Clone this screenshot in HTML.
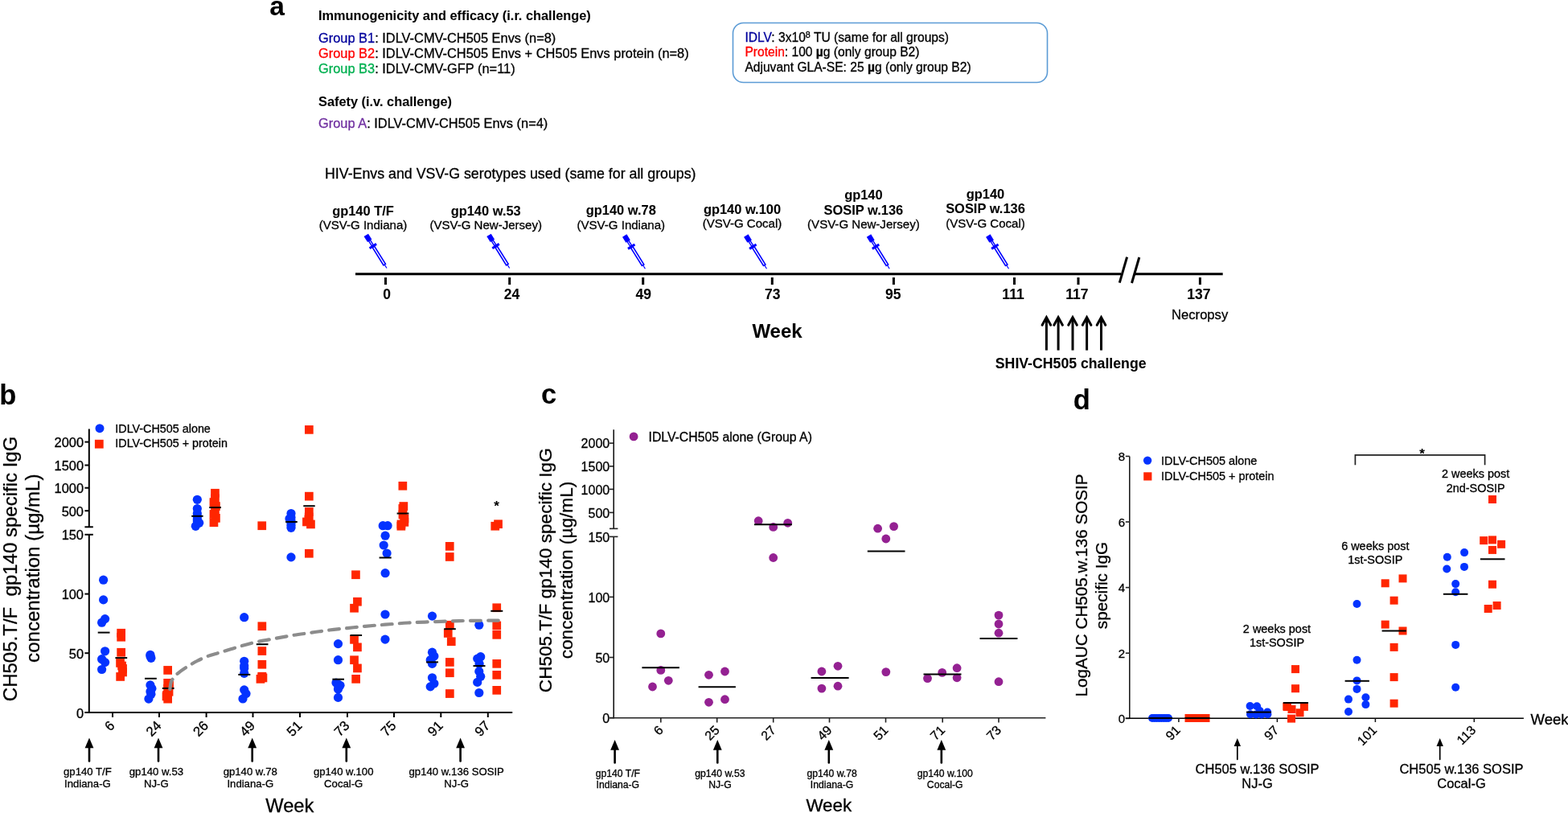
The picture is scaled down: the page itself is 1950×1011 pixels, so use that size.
<!DOCTYPE html>
<html><head><meta charset="utf-8"><title>Figure</title>
<style>html,body{margin:0;padding:0;background:#fff;} svg{display:block;} text{font-family:"Liberation Sans", Arial, Helvetica, sans-serif;stroke:#000;stroke-width:0.3px;} text[font-weight=bold]{stroke-width:0.05px;}</style>
</head><body>
<svg width="1950" height="1011" viewBox="0 0 1950 1011">
<rect width="1950" height="1011" fill="#fff"/>
<text x="335.2" y="18.7" font-size="33.5" font-weight="bold">a</text>
<text x="396.0" y="24.9" font-size="16.35" font-weight="bold">Immunogenicity and efficacy (i.r. challenge)</text>
<text x="396.0" y="53.1" font-size="16.4"><tspan fill="#00009c" stroke="#00009c">Group B1</tspan>: IDLV-CMV-CH505 Envs (n=8)</text>
<text x="396.0" y="72.2" font-size="16.4"><tspan fill="#ff0000" stroke="#ff0000">Group B2</tspan>: IDLV-CMV-CH505 Envs + CH505 Envs protein (n=8)</text>
<text x="396.0" y="91.3" font-size="16.4"><tspan fill="#00b050" stroke="#00b050">Group B3</tspan>: IDLV-CMV-GFP (n=11)</text>
<text x="396.0" y="131.5" font-size="16.35" font-weight="bold">Safety (i.v. challenge)</text>
<text x="396.0" y="159.2" font-size="16.4"><tspan fill="#7030a0" stroke="#7030a0">Group A</tspan>: IDLV-CMV-CH505 Envs (n=4)</text>
<rect x="911.5" y="28.5" width="391" height="74" rx="13" ry="13" fill="none" stroke="#5b9bd5" stroke-width="1.6"/>
<text x="926.4" y="51.5" font-size="15.6"><tspan fill="#00009c" stroke="#00009c">IDLV</tspan>: 3x10<tspan font-size="10.8" dy="-5">8</tspan><tspan dy="5"> TU (same for all groups)</tspan></text>
<text x="926.4" y="69.6" font-size="15.6"><tspan fill="#ff0000" stroke="#ff0000">Protein</tspan>: 100 <tspan font-weight="bold">µ</tspan>g (only group B2)</text>
<text x="926.4" y="88.8" font-size="15.6">Adjuvant GLA-SE: 25 <tspan font-weight="bold">µ</tspan>g (only group B2)</text>
<text x="404.0" y="222.3" font-size="17.8">HIV-Envs and VSV-G serotypes used (same for all groups)</text>
<line x1="442.0" y1="340.8" x2="1394.0" y2="340.8" stroke="#000" stroke-width="3"/>
<line x1="1411.0" y1="340.8" x2="1520.7" y2="340.8" stroke="#000" stroke-width="3"/>
<line x1="1401.6" y1="319.6" x2="1392.3" y2="351.7" stroke="#000" stroke-width="3"/>
<line x1="1416.8" y1="320.0" x2="1407.5" y2="352.0" stroke="#000" stroke-width="3"/>
<line x1="479.5" y1="345.0" x2="479.5" y2="354.0" stroke="#000" stroke-width="3"/>
<text x="481.1" y="372.2" font-size="17.5" font-weight="bold" text-anchor="middle">0</text>
<line x1="633.7" y1="345.0" x2="633.7" y2="354.0" stroke="#000" stroke-width="3"/>
<text x="636.4" y="372.2" font-size="17.5" font-weight="bold" text-anchor="middle">24</text>
<line x1="799.7" y1="345.0" x2="799.7" y2="354.0" stroke="#000" stroke-width="3"/>
<text x="800.3" y="372.2" font-size="17.5" font-weight="bold" text-anchor="middle">49</text>
<line x1="960.3" y1="345.0" x2="960.3" y2="354.0" stroke="#000" stroke-width="3"/>
<text x="960.7" y="372.2" font-size="17.5" font-weight="bold" text-anchor="middle">73</text>
<line x1="1111.4" y1="345.0" x2="1111.4" y2="354.0" stroke="#000" stroke-width="3"/>
<text x="1110.8" y="372.2" font-size="17.5" font-weight="bold" text-anchor="middle">95</text>
<line x1="1261.5" y1="345.0" x2="1261.5" y2="354.0" stroke="#000" stroke-width="3"/>
<text x="1260.0" y="372.2" font-size="17.5" font-weight="bold" text-anchor="middle">111</text>
<line x1="1341.0" y1="345.0" x2="1341.0" y2="354.0" stroke="#000" stroke-width="3"/>
<text x="1339.4" y="372.2" font-size="17.5" font-weight="bold" text-anchor="middle">117</text>
<line x1="1492.4" y1="345.0" x2="1492.4" y2="354.0" stroke="#000" stroke-width="3"/>
<text x="1490.8" y="372.2" font-size="17.5" font-weight="bold" text-anchor="middle">137</text>
<text x="935.4" y="419.8" font-size="24" font-weight="bold">Week</text>
<text x="1457.1" y="397.4" font-size="16.6">Necropsy</text>
<line x1="1301.4" y1="396.0" x2="1301.4" y2="435.6" stroke="#000" stroke-width="3"/>
<polyline points="1296.1,404.3 1301.4,394.6 1306.7,404.3" fill="none" stroke="#000" stroke-width="3" stroke-linecap="round" stroke-linejoin="miter"/>
<line x1="1316.1" y1="396.0" x2="1316.1" y2="435.6" stroke="#000" stroke-width="3"/>
<polyline points="1310.8,404.3 1316.1,394.6 1321.4,404.3" fill="none" stroke="#000" stroke-width="3" stroke-linecap="round" stroke-linejoin="miter"/>
<line x1="1334.0" y1="396.0" x2="1334.0" y2="435.6" stroke="#000" stroke-width="3"/>
<polyline points="1328.7,404.3 1334.0,394.6 1339.3,404.3" fill="none" stroke="#000" stroke-width="3" stroke-linecap="round" stroke-linejoin="miter"/>
<line x1="1351.6" y1="396.0" x2="1351.6" y2="435.6" stroke="#000" stroke-width="3"/>
<polyline points="1346.3,404.3 1351.6,394.6 1356.9,404.3" fill="none" stroke="#000" stroke-width="3" stroke-linecap="round" stroke-linejoin="miter"/>
<line x1="1369.5" y1="396.0" x2="1369.5" y2="435.6" stroke="#000" stroke-width="3"/>
<polyline points="1364.2,404.3 1369.5,394.6 1374.8,404.3" fill="none" stroke="#000" stroke-width="3" stroke-linecap="round" stroke-linejoin="miter"/>
<text x="1331.7" y="457.9" font-size="17.7" font-weight="bold" text-anchor="middle">SHIV-CH505 challenge</text>
<text x="451.5" y="267.7" font-size="16.45" font-weight="bold" text-anchor="middle">gp140 T/F</text>
<text x="451.5" y="285.4" font-size="15.05" text-anchor="middle">(VSV-G Indiana)</text>
<text x="604.2" y="267.7" font-size="16.45" font-weight="bold" text-anchor="middle">gp140 w.53</text>
<text x="604.2" y="285.4" font-size="15.05" text-anchor="middle">(VSV-G New-Jersey)</text>
<text x="772.3" y="266.6" font-size="16.45" font-weight="bold" text-anchor="middle">gp140 w.78</text>
<text x="772.3" y="284.6" font-size="15.05" text-anchor="middle">(VSV-G Indiana)</text>
<text x="923.0" y="265.7" font-size="16.45" font-weight="bold" text-anchor="middle">gp140 w.100</text>
<text x="923.0" y="283.0" font-size="15.05" text-anchor="middle">(VSV-G Cocal)</text>
<text x="1073.9" y="248.0" font-size="16.45" font-weight="bold" text-anchor="middle">gp140</text>
<text x="1073.9" y="266.5" font-size="16.45" font-weight="bold" text-anchor="middle">SOSIP w.136</text>
<text x="1073.9" y="284.0" font-size="15.05" text-anchor="middle">(VSV-G New-Jersey)</text>
<text x="1225.5" y="246.5" font-size="16.45" font-weight="bold" text-anchor="middle">gp140</text>
<text x="1225.5" y="265.0" font-size="16.45" font-weight="bold" text-anchor="middle">SOSIP w.136</text>
<text x="1225.5" y="282.5" font-size="15.05" text-anchor="middle">(VSV-G Cocal)</text>
<g transform="translate(455.30 292.37) rotate(-32)" fill="#0000ff" stroke="#0000ff"><rect x="-3.2" y="0" width="6.4" height="8.3" stroke="none"/><rect x="-1.1" y="8" width="2.2" height="7" fill="#fff" stroke-width="1.4"/><rect x="-5" y="14.6" width="10" height="3" stroke="none"/><rect x="-1.45" y="17.3" width="2.9" height="25.9" fill="#fff" stroke-width="1.6"/><line x1="0" y1="43" x2="0" y2="48.5" stroke-width="1.2"/></g>
<g transform="translate(608.00 292.37) rotate(-32)" fill="#0000ff" stroke="#0000ff"><rect x="-3.2" y="0" width="6.4" height="8.3" stroke="none"/><rect x="-1.1" y="8" width="2.2" height="7" fill="#fff" stroke-width="1.4"/><rect x="-5" y="14.6" width="10" height="3" stroke="none"/><rect x="-1.45" y="17.3" width="2.9" height="25.9" fill="#fff" stroke-width="1.6"/><line x1="0" y1="43" x2="0" y2="48.5" stroke-width="1.2"/></g>
<g transform="translate(776.70 293.07) rotate(-32)" fill="#0000ff" stroke="#0000ff"><rect x="-3.2" y="0" width="6.4" height="8.3" stroke="none"/><rect x="-1.1" y="8" width="2.2" height="7" fill="#fff" stroke-width="1.4"/><rect x="-5" y="14.6" width="10" height="3" stroke="none"/><rect x="-1.45" y="17.3" width="2.9" height="25.9" fill="#fff" stroke-width="1.6"/><line x1="0" y1="43" x2="0" y2="48.5" stroke-width="1.2"/></g>
<g transform="translate(927.80 293.07) rotate(-32)" fill="#0000ff" stroke="#0000ff"><rect x="-3.2" y="0" width="6.4" height="8.3" stroke="none"/><rect x="-1.1" y="8" width="2.2" height="7" fill="#fff" stroke-width="1.4"/><rect x="-5" y="14.6" width="10" height="3" stroke="none"/><rect x="-1.45" y="17.3" width="2.9" height="25.9" fill="#fff" stroke-width="1.6"/><line x1="0" y1="43" x2="0" y2="48.5" stroke-width="1.2"/></g>
<g transform="translate(1080.50 293.07) rotate(-32)" fill="#0000ff" stroke="#0000ff"><rect x="-3.2" y="0" width="6.4" height="8.3" stroke="none"/><rect x="-1.1" y="8" width="2.2" height="7" fill="#fff" stroke-width="1.4"/><rect x="-5" y="14.6" width="10" height="3" stroke="none"/><rect x="-1.45" y="17.3" width="2.9" height="25.9" fill="#fff" stroke-width="1.6"/><line x1="0" y1="43" x2="0" y2="48.5" stroke-width="1.2"/></g>
<g transform="translate(1228.80 293.07) rotate(-32)" fill="#0000ff" stroke="#0000ff"><rect x="-3.2" y="0" width="6.4" height="8.3" stroke="none"/><rect x="-1.1" y="8" width="2.2" height="7" fill="#fff" stroke-width="1.4"/><rect x="-5" y="14.6" width="10" height="3" stroke="none"/><rect x="-1.45" y="17.3" width="2.9" height="25.9" fill="#fff" stroke-width="1.6"/><line x1="0" y1="43" x2="0" y2="48.5" stroke-width="1.2"/></g>
<text x="-0.7" y="502.6" font-size="34.5" font-weight="bold">b</text>
<line x1="110.8" y1="533.4" x2="110.8" y2="655.3" stroke="#000" stroke-width="2"/>
<line x1="110.8" y1="664.8" x2="110.8" y2="887.0" stroke="#000" stroke-width="2"/>
<line x1="105.4" y1="655.3" x2="115.8" y2="655.3" stroke="#000" stroke-width="2"/>
<line x1="105.4" y1="549.6" x2="110.8" y2="549.6" stroke="#000" stroke-width="2"/>
<text x="104.0" y="556.1" font-size="16.4" text-anchor="end">2000</text>
<line x1="105.4" y1="578.5" x2="110.8" y2="578.5" stroke="#000" stroke-width="2"/>
<text x="104.0" y="585.0" font-size="16.4" text-anchor="end">1500</text>
<line x1="105.4" y1="606.7" x2="110.8" y2="606.7" stroke="#000" stroke-width="2"/>
<text x="104.0" y="613.2" font-size="16.4" text-anchor="end">1000</text>
<line x1="105.4" y1="635.2" x2="110.8" y2="635.2" stroke="#000" stroke-width="2"/>
<text x="104.0" y="641.7" font-size="16.4" text-anchor="end">500</text>
<line x1="105.4" y1="664.8" x2="110.8" y2="664.8" stroke="#000" stroke-width="2"/>
<text x="104.0" y="671.3" font-size="16.4" text-anchor="end">150</text>
<line x1="105.4" y1="738.6" x2="110.8" y2="738.6" stroke="#000" stroke-width="2"/>
<text x="104.0" y="745.1" font-size="16.4" text-anchor="end">100</text>
<line x1="105.4" y1="812.2" x2="110.8" y2="812.2" stroke="#000" stroke-width="2"/>
<text x="104.0" y="818.7" font-size="16.4" text-anchor="end">50</text>
<line x1="105.4" y1="886.0" x2="110.8" y2="886.0" stroke="#000" stroke-width="2"/>
<text x="104.0" y="892.5" font-size="16.4" text-anchor="end">0</text>
<line x1="115.8" y1="664.8" x2="110.8" y2="664.8" stroke="#000" stroke-width="2"/>
<line x1="105.6" y1="886.0" x2="637.2" y2="886.0" stroke="#000" stroke-width="2"/>
<line x1="140.0" y1="886.0" x2="140.0" y2="892.0" stroke="#000" stroke-width="2"/>
<text x="143.6" y="903.5" font-size="16.8" text-anchor="end" transform="rotate(-45 143.6 903.5)">6</text>
<line x1="198.0" y1="886.0" x2="198.0" y2="892.0" stroke="#000" stroke-width="2"/>
<text x="201.6" y="903.5" font-size="16.8" text-anchor="end" transform="rotate(-45 201.6 903.5)">24</text>
<line x1="256.6" y1="886.0" x2="256.6" y2="892.0" stroke="#000" stroke-width="2"/>
<text x="260.2" y="903.5" font-size="16.8" text-anchor="end" transform="rotate(-45 260.2 903.5)">26</text>
<line x1="314.5" y1="886.0" x2="314.5" y2="892.0" stroke="#000" stroke-width="2"/>
<text x="318.1" y="903.5" font-size="16.8" text-anchor="end" transform="rotate(-45 318.1 903.5)">49</text>
<line x1="373.0" y1="886.0" x2="373.0" y2="892.0" stroke="#000" stroke-width="2"/>
<text x="376.6" y="903.5" font-size="16.8" text-anchor="end" transform="rotate(-45 376.6 903.5)">51</text>
<line x1="432.0" y1="886.0" x2="432.0" y2="892.0" stroke="#000" stroke-width="2"/>
<text x="435.6" y="903.5" font-size="16.8" text-anchor="end" transform="rotate(-45 435.6 903.5)">73</text>
<line x1="490.0" y1="886.0" x2="490.0" y2="892.0" stroke="#000" stroke-width="2"/>
<text x="493.6" y="903.5" font-size="16.8" text-anchor="end" transform="rotate(-45 493.6 903.5)">75</text>
<line x1="548.3" y1="886.0" x2="548.3" y2="892.0" stroke="#000" stroke-width="2"/>
<text x="551.9" y="903.5" font-size="16.8" text-anchor="end" transform="rotate(-45 551.9 903.5)">91</text>
<line x1="606.8" y1="886.0" x2="606.8" y2="892.0" stroke="#000" stroke-width="2"/>
<text x="610.4" y="903.5" font-size="16.8" text-anchor="end" transform="rotate(-45 610.4 903.5)">97</text>
<circle cx="124.0" cy="532.7" r="5.5" fill="#0433ff"/>
<rect x="117.9" y="546.8" width="10.8" height="10.8" fill="#ff2600"/>
<text x="143.3" y="538.0" font-size="14.35">IDLV-CH505 alone</text>
<text x="143.3" y="556.4" font-size="14.35">IDLV-CH505 + protein</text>
<text x="21.3" y="707.4" font-size="24.0" text-anchor="middle" transform="rotate(-90 21.3 707.4)" style="white-space:pre">CH505.T/F  gp140 specific IgG</text>
<text x="49.0" y="706.7" font-size="24.05" text-anchor="middle" transform="rotate(-90 49.0 706.7)">concentration (µg/mL)</text>
<circle cx="128.6" cy="721.2" r="5.6" fill="#0433ff"/>
<circle cx="128.6" cy="745.9" r="5.6" fill="#0433ff"/>
<circle cx="130.6" cy="769.6" r="5.6" fill="#0433ff"/>
<circle cx="126.6" cy="774.2" r="5.6" fill="#0433ff"/>
<circle cx="130.6" cy="809.8" r="5.6" fill="#0433ff"/>
<circle cx="126.6" cy="819.7" r="5.6" fill="#0433ff"/>
<circle cx="130.6" cy="823.6" r="5.6" fill="#0433ff"/>
<circle cx="126.6" cy="832.5" r="5.6" fill="#0433ff"/>
<circle cx="186.9" cy="814.3" r="5.6" fill="#0433ff"/>
<circle cx="187.9" cy="818.3" r="5.6" fill="#0433ff"/>
<circle cx="186.9" cy="851.9" r="5.6" fill="#0433ff"/>
<circle cx="188.9" cy="856.3" r="5.6" fill="#0433ff"/>
<circle cx="187.9" cy="863.2" r="5.6" fill="#0433ff"/>
<circle cx="184.9" cy="869.1" r="5.6" fill="#0433ff"/>
<circle cx="186.9" cy="816.0" r="5.6" fill="#0433ff"/>
<circle cx="186.9" cy="860.0" r="5.6" fill="#0433ff"/>
<circle cx="245.3" cy="621.3" r="5.6" fill="#0433ff"/>
<circle cx="245.3" cy="632.5" r="5.6" fill="#0433ff"/>
<circle cx="245.3" cy="638.5" r="5.6" fill="#0433ff"/>
<circle cx="245.3" cy="642.4" r="5.6" fill="#0433ff"/>
<circle cx="245.3" cy="645.4" r="5.6" fill="#0433ff"/>
<circle cx="247.7" cy="650.3" r="5.6" fill="#0433ff"/>
<circle cx="243.3" cy="654.3" r="5.6" fill="#0433ff"/>
<circle cx="245.3" cy="648.0" r="5.6" fill="#0433ff"/>
<circle cx="303.7" cy="767.7" r="5.6" fill="#0433ff"/>
<circle cx="303.7" cy="822.3" r="5.6" fill="#0433ff"/>
<circle cx="303.7" cy="831.0" r="5.6" fill="#0433ff"/>
<circle cx="303.7" cy="837.3" r="5.6" fill="#0433ff"/>
<circle cx="303.7" cy="857.9" r="5.6" fill="#0433ff"/>
<circle cx="306.0" cy="862.6" r="5.6" fill="#0433ff"/>
<circle cx="302.0" cy="869.0" r="5.6" fill="#0433ff"/>
<circle cx="303.7" cy="828.0" r="5.6" fill="#0433ff"/>
<circle cx="362.0" cy="638.5" r="5.6" fill="#0433ff"/>
<circle cx="362.0" cy="643.4" r="5.6" fill="#0433ff"/>
<circle cx="362.0" cy="647.4" r="5.6" fill="#0433ff"/>
<circle cx="362.0" cy="650.3" r="5.6" fill="#0433ff"/>
<circle cx="362.0" cy="653.3" r="5.6" fill="#0433ff"/>
<circle cx="362.0" cy="656.3" r="5.6" fill="#0433ff"/>
<circle cx="362.0" cy="692.9" r="5.6" fill="#0433ff"/>
<circle cx="360.0" cy="645.0" r="5.6" fill="#0433ff"/>
<circle cx="420.5" cy="800.6" r="5.6" fill="#0433ff"/>
<circle cx="420.5" cy="820.7" r="5.6" fill="#0433ff"/>
<circle cx="420.5" cy="850.8" r="5.6" fill="#0433ff"/>
<circle cx="423.0" cy="852.3" r="5.6" fill="#0433ff"/>
<circle cx="420.5" cy="857.1" r="5.6" fill="#0433ff"/>
<circle cx="420.5" cy="867.4" r="5.6" fill="#0433ff"/>
<circle cx="418.0" cy="849.0" r="5.6" fill="#0433ff"/>
<circle cx="421.0" cy="855.0" r="5.6" fill="#0433ff"/>
<circle cx="476.2" cy="653.7" r="5.6" fill="#0433ff"/>
<circle cx="482.1" cy="653.7" r="5.6" fill="#0433ff"/>
<circle cx="479.1" cy="666.2" r="5.6" fill="#0433ff"/>
<circle cx="477.2" cy="678.0" r="5.6" fill="#0433ff"/>
<circle cx="481.1" cy="688.0" r="5.6" fill="#0433ff"/>
<circle cx="479.1" cy="712.7" r="5.6" fill="#0433ff"/>
<circle cx="479.0" cy="764.0" r="5.6" fill="#0433ff"/>
<circle cx="479.0" cy="795.1" r="5.6" fill="#0433ff"/>
<circle cx="537.5" cy="766.1" r="5.6" fill="#0433ff"/>
<circle cx="537.5" cy="811.2" r="5.6" fill="#0433ff"/>
<circle cx="539.9" cy="816.0" r="5.6" fill="#0433ff"/>
<circle cx="535.2" cy="820.7" r="5.6" fill="#0433ff"/>
<circle cx="537.5" cy="825.4" r="5.6" fill="#0433ff"/>
<circle cx="537.5" cy="842.8" r="5.6" fill="#0433ff"/>
<circle cx="539.9" cy="850.0" r="5.6" fill="#0433ff"/>
<circle cx="535.2" cy="853.9" r="5.6" fill="#0433ff"/>
<circle cx="595.8" cy="777.2" r="5.6" fill="#0433ff"/>
<circle cx="597.7" cy="816.7" r="5.6" fill="#0433ff"/>
<circle cx="593.7" cy="819.1" r="5.6" fill="#0433ff"/>
<circle cx="596.1" cy="825.4" r="5.6" fill="#0433ff"/>
<circle cx="595.8" cy="834.9" r="5.6" fill="#0433ff"/>
<circle cx="597.7" cy="841.3" r="5.6" fill="#0433ff"/>
<circle cx="593.7" cy="848.4" r="5.6" fill="#0433ff"/>
<circle cx="595.8" cy="861.5" r="5.6" fill="#0433ff"/>
<rect x="145.3" y="781.9" width="10.7" height="10.7" fill="#ff2600"/>
<rect x="145.3" y="786.9" width="10.7" height="10.7" fill="#ff2600"/>
<rect x="145.3" y="805.9" width="10.7" height="10.7" fill="#ff2600"/>
<rect x="144.2" y="819.1" width="10.7" height="10.7" fill="#ff2600"/>
<rect x="146.2" y="822.6" width="10.7" height="10.7" fill="#ff2600"/>
<rect x="147.2" y="826.1" width="10.7" height="10.7" fill="#ff2600"/>
<rect x="147.2" y="830.6" width="10.7" height="10.7" fill="#ff2600"/>
<rect x="144.3" y="836.1" width="10.7" height="10.7" fill="#ff2600"/>
<rect x="203.3" y="828.1" width="10.7" height="10.7" fill="#ff2600"/>
<rect x="203.3" y="844.0" width="10.7" height="10.7" fill="#ff2600"/>
<rect x="203.3" y="850.9" width="10.7" height="10.7" fill="#ff2600"/>
<rect x="204.7" y="854.9" width="10.7" height="10.7" fill="#ff2600"/>
<rect x="202.2" y="858.9" width="10.7" height="10.7" fill="#ff2600"/>
<rect x="203.3" y="863.8" width="10.7" height="10.7" fill="#ff2600"/>
<rect x="205.2" y="846.6" width="10.7" height="10.7" fill="#ff2600"/>
<rect x="201.7" y="860.6" width="10.7" height="10.7" fill="#ff2600"/>
<rect x="262.1" y="607.9" width="10.7" height="10.7" fill="#ff2600"/>
<rect x="262.1" y="614.4" width="10.7" height="10.7" fill="#ff2600"/>
<rect x="260.6" y="619.2" width="10.7" height="10.7" fill="#ff2600"/>
<rect x="263.1" y="624.2" width="10.7" height="10.7" fill="#ff2600"/>
<rect x="262.1" y="629.1" width="10.7" height="10.7" fill="#ff2600"/>
<rect x="260.6" y="634.1" width="10.7" height="10.7" fill="#ff2600"/>
<rect x="263.1" y="639.0" width="10.7" height="10.7" fill="#ff2600"/>
<rect x="260.6" y="644.4" width="10.7" height="10.7" fill="#ff2600"/>
<rect x="320.4" y="648.4" width="10.7" height="10.7" fill="#ff2600"/>
<rect x="320.5" y="773.4" width="10.7" height="10.7" fill="#ff2600"/>
<rect x="320.5" y="804.2" width="10.7" height="10.7" fill="#ff2600"/>
<rect x="320.5" y="820.9" width="10.7" height="10.7" fill="#ff2600"/>
<rect x="320.5" y="835.9" width="10.7" height="10.7" fill="#ff2600"/>
<rect x="318.6" y="839.0" width="10.7" height="10.7" fill="#ff2600"/>
<rect x="321.6" y="837.6" width="10.7" height="10.7" fill="#ff2600"/>
<rect x="320.5" y="836.6" width="10.7" height="10.7" fill="#ff2600"/>
<rect x="379.0" y="529.0" width="10.7" height="10.7" fill="#ff2600"/>
<rect x="379.0" y="611.8" width="10.7" height="10.7" fill="#ff2600"/>
<rect x="379.0" y="631.1" width="10.7" height="10.7" fill="#ff2600"/>
<rect x="378.8" y="637.6" width="10.7" height="10.7" fill="#ff2600"/>
<rect x="376.1" y="643.6" width="10.7" height="10.7" fill="#ff2600"/>
<rect x="381.1" y="646.6" width="10.7" height="10.7" fill="#ff2600"/>
<rect x="378.6" y="640.6" width="10.7" height="10.7" fill="#ff2600"/>
<rect x="379.0" y="682.9" width="10.7" height="10.7" fill="#ff2600"/>
<rect x="437.1" y="709.4" width="10.7" height="10.7" fill="#ff2600"/>
<rect x="439.1" y="742.9" width="10.7" height="10.7" fill="#ff2600"/>
<rect x="435.2" y="750.9" width="10.7" height="10.7" fill="#ff2600"/>
<rect x="435.2" y="790.0" width="10.7" height="10.7" fill="#ff2600"/>
<rect x="439.1" y="799.5" width="10.7" height="10.7" fill="#ff2600"/>
<rect x="435.2" y="815.4" width="10.7" height="10.7" fill="#ff2600"/>
<rect x="439.1" y="825.6" width="10.7" height="10.7" fill="#ff2600"/>
<rect x="437.3" y="839.0" width="10.7" height="10.7" fill="#ff2600"/>
<rect x="495.5" y="598.9" width="10.7" height="10.7" fill="#ff2600"/>
<rect x="496.5" y="624.2" width="10.7" height="10.7" fill="#ff2600"/>
<rect x="495.5" y="627.1" width="10.7" height="10.7" fill="#ff2600"/>
<rect x="497.5" y="644.0" width="10.7" height="10.7" fill="#ff2600"/>
<rect x="493.5" y="648.9" width="10.7" height="10.7" fill="#ff2600"/>
<rect x="495.6" y="634.6" width="10.7" height="10.7" fill="#ff2600"/>
<rect x="497.6" y="639.6" width="10.7" height="10.7" fill="#ff2600"/>
<rect x="493.6" y="646.6" width="10.7" height="10.7" fill="#ff2600"/>
<rect x="553.9" y="674.0" width="10.7" height="10.7" fill="#ff2600"/>
<rect x="553.9" y="687.1" width="10.7" height="10.7" fill="#ff2600"/>
<rect x="554.0" y="771.9" width="10.7" height="10.7" fill="#ff2600"/>
<rect x="551.9" y="782.1" width="10.7" height="10.7" fill="#ff2600"/>
<rect x="555.9" y="792.4" width="10.7" height="10.7" fill="#ff2600"/>
<rect x="554.0" y="818.1" width="10.7" height="10.7" fill="#ff2600"/>
<rect x="554.0" y="831.4" width="10.7" height="10.7" fill="#ff2600"/>
<rect x="554.0" y="857.2" width="10.7" height="10.7" fill="#ff2600"/>
<rect x="610.4" y="648.9" width="10.7" height="10.7" fill="#ff2600"/>
<rect x="614.2" y="646.4" width="10.7" height="10.7" fill="#ff2600"/>
<rect x="612.4" y="750.4" width="10.7" height="10.7" fill="#ff2600"/>
<rect x="612.4" y="772.6" width="10.7" height="10.7" fill="#ff2600"/>
<rect x="612.4" y="784.0" width="10.7" height="10.7" fill="#ff2600"/>
<rect x="612.4" y="820.0" width="10.7" height="10.7" fill="#ff2600"/>
<rect x="612.4" y="834.0" width="10.7" height="10.7" fill="#ff2600"/>
<rect x="612.4" y="853.0" width="10.7" height="10.7" fill="#ff2600"/>
<line x1="121.7" y1="786.6" x2="136.5" y2="786.6" stroke="#000" stroke-width="2"/>
<line x1="180.0" y1="843.8" x2="194.8" y2="843.8" stroke="#000" stroke-width="2"/>
<line x1="238.2" y1="641.8" x2="252.6" y2="641.8" stroke="#000" stroke-width="2"/>
<line x1="296.3" y1="838.9" x2="311.3" y2="838.9" stroke="#000" stroke-width="2"/>
<line x1="355.1" y1="649.0" x2="369.8" y2="649.0" stroke="#000" stroke-width="2"/>
<line x1="413.4" y1="844.7" x2="428.0" y2="844.7" stroke="#000" stroke-width="2"/>
<line x1="471.6" y1="693.5" x2="486.7" y2="693.5" stroke="#000" stroke-width="2"/>
<line x1="530.1" y1="823.4" x2="545.0" y2="823.4" stroke="#000" stroke-width="2"/>
<line x1="588.5" y1="828.1" x2="603.5" y2="828.1" stroke="#000" stroke-width="2"/>
<line x1="143.4" y1="818.1" x2="158.2" y2="818.1" stroke="#000" stroke-width="2"/>
<line x1="201.8" y1="855.9" x2="216.6" y2="855.9" stroke="#000" stroke-width="2"/>
<line x1="260.2" y1="631.1" x2="275.0" y2="631.1" stroke="#000" stroke-width="2"/>
<line x1="318.8" y1="801.2" x2="333.5" y2="801.2" stroke="#000" stroke-width="2"/>
<line x1="377.3" y1="629.2" x2="391.7" y2="629.2" stroke="#000" stroke-width="2"/>
<line x1="435.5" y1="790.0" x2="450.1" y2="790.0" stroke="#000" stroke-width="2"/>
<line x1="493.6" y1="638.5" x2="508.4" y2="638.5" stroke="#000" stroke-width="2"/>
<line x1="552.2" y1="782.2" x2="566.8" y2="782.2" stroke="#000" stroke-width="2"/>
<line x1="610.3" y1="759.8" x2="625.3" y2="759.8" stroke="#000" stroke-width="2"/>
<text x="617.6" y="634.5" font-size="17" font-weight="bold" text-anchor="middle">*</text>
<path d="M211.3,857.0 C211.6,855.5 212.1,850.4 212.8,848.1 C213.6,845.8 214.4,845.0 215.8,843.2 C217.2,841.4 218.4,839.6 221.2,837.3 C224.0,835.0 228.6,831.8 232.6,829.3 C236.6,826.8 240.7,824.2 245.0,822.0 C249.3,819.8 253.6,817.8 258.3,816.0 C263.0,814.2 267.2,813.3 273.1,811.5 C279.0,809.7 286.9,807.1 293.9,805.1 C300.9,803.1 306.8,801.1 315.0,799.2 C323.2,797.3 334.9,795.4 343.3,793.8 C351.7,792.2 358.0,791.0 365.4,789.8 C372.8,788.6 380.2,787.8 387.6,786.7 C395.0,785.7 402.3,784.4 409.7,783.5 C417.1,782.6 424.5,781.9 431.9,781.1 C439.3,780.3 446.1,779.5 454.0,778.8 C461.9,778.1 470.1,777.4 479.0,776.7 C487.9,776.0 497.5,775.1 507.5,774.5 C517.5,773.9 528.5,773.6 539.0,773.2 C549.5,772.8 557.3,772.4 570.8,772.1 C584.3,771.8 611.6,771.7 619.8,771.6" fill="none" stroke="#8c8c8c" stroke-width="4.2" stroke-dasharray="12.8 9.24" stroke-linecap="round"/>
<line x1="111.0" y1="929.3" x2="111.0" y2="946.5" stroke="#000" stroke-width="2.6" stroke-linecap="round"/>
<polygon points="111.0,917.5 105.6,930.3 116.4,930.3" fill="#000"/>
<line x1="197.0" y1="929.3" x2="197.0" y2="946.5" stroke="#000" stroke-width="2.6" stroke-linecap="round"/>
<polygon points="197.0,917.5 191.6,930.3 202.4,930.3" fill="#000"/>
<line x1="313.7" y1="929.3" x2="313.7" y2="946.5" stroke="#000" stroke-width="2.6" stroke-linecap="round"/>
<polygon points="313.7,917.5 308.3,930.3 319.1,930.3" fill="#000"/>
<line x1="430.8" y1="929.3" x2="430.8" y2="946.5" stroke="#000" stroke-width="2.6" stroke-linecap="round"/>
<polygon points="430.8,917.5 425.4,930.3 436.2,930.3" fill="#000"/>
<line x1="572.6" y1="929.3" x2="572.6" y2="946.5" stroke="#000" stroke-width="2.6" stroke-linecap="round"/>
<polygon points="572.6,917.5 567.2,930.3 578.0,930.3" fill="#000"/>
<text x="108.9" y="963.9" font-size="13.15" text-anchor="middle">gp140 T/F</text>
<text x="108.9" y="979.1" font-size="13.15" text-anchor="middle">Indiana-G</text>
<text x="194.4" y="963.9" font-size="13.15" text-anchor="middle">gp140 w.53</text>
<text x="194.4" y="979.1" font-size="13.15" text-anchor="middle">NJ-G</text>
<text x="311.3" y="963.9" font-size="13.15" text-anchor="middle">gp140 w.78</text>
<text x="311.3" y="979.1" font-size="13.15" text-anchor="middle">Indiana-G</text>
<text x="427.2" y="963.9" font-size="13.15" text-anchor="middle">gp140 w.100</text>
<text x="427.2" y="979.1" font-size="13.15" text-anchor="middle">Cocal-G</text>
<text x="567.7" y="963.9" font-size="13.15" text-anchor="middle">gp140 w.136 SOSIP</text>
<text x="567.7" y="979.1" font-size="13.15" text-anchor="middle">NJ-G</text>
<text x="360.3" y="1010.3" font-size="23.7" text-anchor="middle">Week</text>
<text x="673.1" y="502.4" font-size="34.5" font-weight="bold">c</text>
<line x1="763.2" y1="534.3" x2="763.2" y2="657.4" stroke="#000" stroke-width="1.45"/>
<line x1="763.2" y1="667.4" x2="763.2" y2="893.5" stroke="#000" stroke-width="1.45"/>
<line x1="758.0" y1="657.4" x2="768.4" y2="657.4" stroke="#222" stroke-width="1.6"/>
<line x1="758.0" y1="551.1" x2="763.2" y2="551.1" stroke="#222" stroke-width="1.6"/>
<text x="758.2" y="557.4" font-size="16" text-anchor="end">2000</text>
<line x1="758.0" y1="579.8" x2="763.2" y2="579.8" stroke="#222" stroke-width="1.6"/>
<text x="758.2" y="586.1" font-size="16" text-anchor="end">1500</text>
<line x1="758.0" y1="608.4" x2="763.2" y2="608.4" stroke="#222" stroke-width="1.6"/>
<text x="758.2" y="614.7" font-size="16" text-anchor="end">1000</text>
<line x1="758.0" y1="637.4" x2="763.2" y2="637.4" stroke="#222" stroke-width="1.6"/>
<text x="758.2" y="643.7" font-size="16" text-anchor="end">500</text>
<line x1="758.0" y1="667.4" x2="763.2" y2="667.4" stroke="#222" stroke-width="1.6"/>
<text x="758.2" y="673.7" font-size="16" text-anchor="end">150</text>
<line x1="758.0" y1="742.4" x2="763.2" y2="742.4" stroke="#222" stroke-width="1.6"/>
<text x="758.2" y="748.7" font-size="16" text-anchor="end">100</text>
<line x1="758.0" y1="817.5" x2="763.2" y2="817.5" stroke="#222" stroke-width="1.6"/>
<text x="758.2" y="823.8" font-size="16" text-anchor="end">50</text>
<line x1="758.0" y1="892.6" x2="763.2" y2="892.6" stroke="#222" stroke-width="1.6"/>
<text x="758.2" y="898.9" font-size="16" text-anchor="end">0</text>
<line x1="768.4" y1="667.4" x2="763.2" y2="667.4" stroke="#222" stroke-width="1.6"/>
<line x1="757.5" y1="892.7" x2="1300.4" y2="892.7" stroke="#222" stroke-width="1.6"/>
<line x1="821.8" y1="892.7" x2="821.8" y2="898.5" stroke="#222" stroke-width="1.6"/>
<text x="825.8" y="909.0" font-size="16" text-anchor="end" transform="rotate(-45 825.8 909.0)">6</text>
<line x1="891.7" y1="892.7" x2="891.7" y2="898.5" stroke="#222" stroke-width="1.6"/>
<text x="895.7" y="909.0" font-size="16" text-anchor="end" transform="rotate(-45 895.7 909.0)">25</text>
<line x1="961.7" y1="892.7" x2="961.7" y2="898.5" stroke="#222" stroke-width="1.6"/>
<text x="965.7" y="909.0" font-size="16" text-anchor="end" transform="rotate(-45 965.7 909.0)">27</text>
<line x1="1031.5" y1="892.7" x2="1031.5" y2="898.5" stroke="#222" stroke-width="1.6"/>
<text x="1035.5" y="909.0" font-size="16" text-anchor="end" transform="rotate(-45 1035.5 909.0)">49</text>
<line x1="1101.5" y1="892.7" x2="1101.5" y2="898.5" stroke="#222" stroke-width="1.6"/>
<text x="1105.5" y="909.0" font-size="16" text-anchor="end" transform="rotate(-45 1105.5 909.0)">51</text>
<line x1="1172.2" y1="892.7" x2="1172.2" y2="898.5" stroke="#222" stroke-width="1.6"/>
<text x="1176.2" y="909.0" font-size="16" text-anchor="end" transform="rotate(-45 1176.2 909.0)">71</text>
<line x1="1242.0" y1="892.7" x2="1242.0" y2="898.5" stroke="#222" stroke-width="1.6"/>
<text x="1246.0" y="909.0" font-size="16" text-anchor="end" transform="rotate(-45 1246.0 909.0)">73</text>
<circle cx="788.1" cy="542.9" r="5.4" fill="#942192"/>
<text x="806.5" y="548.6" font-size="15.8">IDLV-CH505 alone (Group A)</text>
<text x="685.9" y="709.2" font-size="22.6" text-anchor="middle" transform="rotate(-90 685.9 709.2)">CH505.T/F gp140 specific IgG</text>
<text x="711.9" y="709.0" font-size="22.65" text-anchor="middle" transform="rotate(-90 711.9 709.0)">concentration (µg/mL)</text>
<circle cx="821.8" cy="787.9" r="5.4" fill="#942192"/>
<circle cx="821.8" cy="833.4" r="5.4" fill="#942192"/>
<circle cx="831.3" cy="846.3" r="5.4" fill="#942192"/>
<circle cx="811.5" cy="854.0" r="5.4" fill="#942192"/>
<circle cx="881.5" cy="839.3" r="5.4" fill="#942192"/>
<circle cx="901.5" cy="835.0" r="5.4" fill="#942192"/>
<circle cx="881.5" cy="873.3" r="5.4" fill="#942192"/>
<circle cx="901.5" cy="869.7" r="5.4" fill="#942192"/>
<circle cx="943.2" cy="647.7" r="5.4" fill="#942192"/>
<circle cx="961.7" cy="655.4" r="5.4" fill="#942192"/>
<circle cx="979.7" cy="650.3" r="5.4" fill="#942192"/>
<circle cx="961.7" cy="693.5" r="5.4" fill="#942192"/>
<circle cx="1021.9" cy="835.0" r="5.4" fill="#942192"/>
<circle cx="1042.0" cy="828.3" r="5.4" fill="#942192"/>
<circle cx="1021.9" cy="856.1" r="5.4" fill="#942192"/>
<circle cx="1042.0" cy="853.2" r="5.4" fill="#942192"/>
<circle cx="1091.6" cy="657.2" r="5.4" fill="#942192"/>
<circle cx="1111.6" cy="654.6" r="5.4" fill="#942192"/>
<circle cx="1101.8" cy="670.0" r="5.4" fill="#942192"/>
<circle cx="1101.8" cy="835.6" r="5.4" fill="#942192"/>
<circle cx="1153.5" cy="843.6" r="5.4" fill="#942192"/>
<circle cx="1171.7" cy="836.4" r="5.4" fill="#942192"/>
<circle cx="1190.1" cy="830.7" r="5.4" fill="#942192"/>
<circle cx="1190.1" cy="842.8" r="5.4" fill="#942192"/>
<circle cx="1242.0" cy="765.1" r="5.4" fill="#942192"/>
<circle cx="1242.0" cy="776.0" r="5.4" fill="#942192"/>
<circle cx="1242.0" cy="787.2" r="5.4" fill="#942192"/>
<circle cx="1242.0" cy="847.7" r="5.4" fill="#942192"/>
<line x1="798.4" y1="830.3" x2="844.9" y2="830.3" stroke="#000" stroke-width="2"/>
<line x1="868.6" y1="854.2" x2="914.9" y2="854.2" stroke="#000" stroke-width="2"/>
<line x1="938.0" y1="652.3" x2="984.9" y2="652.3" stroke="#000" stroke-width="2"/>
<line x1="1008.6" y1="843.0" x2="1055.6" y2="843.0" stroke="#000" stroke-width="2"/>
<line x1="1078.8" y1="685.5" x2="1125.5" y2="685.5" stroke="#000" stroke-width="2"/>
<line x1="1148.5" y1="838.5" x2="1195.5" y2="838.5" stroke="#000" stroke-width="2"/>
<line x1="1218.5" y1="794.0" x2="1265.4" y2="794.0" stroke="#000" stroke-width="2"/>
<line x1="764.6" y1="931.8" x2="764.6" y2="948.5" stroke="#000" stroke-width="2.6" stroke-linecap="round"/>
<polygon points="764.6,920.0 759.2,932.8 770.0,932.8" fill="#000"/>
<line x1="892.3" y1="931.8" x2="892.3" y2="948.5" stroke="#000" stroke-width="2.6" stroke-linecap="round"/>
<polygon points="892.3,920.0 886.9,932.8 897.7,932.8" fill="#000"/>
<line x1="1030.8" y1="931.8" x2="1030.8" y2="948.5" stroke="#000" stroke-width="2.6" stroke-linecap="round"/>
<polygon points="1030.8,920.0 1025.4,932.8 1036.2,932.8" fill="#000"/>
<line x1="1170.8" y1="931.8" x2="1170.8" y2="948.5" stroke="#000" stroke-width="2.6" stroke-linecap="round"/>
<polygon points="1170.8,920.0 1165.4,932.8 1176.2,932.8" fill="#000"/>
<text x="768.3" y="965.5" font-size="12.2" text-anchor="middle">gp140 T/F</text>
<text x="768.3" y="980.3" font-size="12.2" text-anchor="middle">Indiana-G</text>
<text x="895.4" y="965.5" font-size="12.2" text-anchor="middle">gp140 w.53</text>
<text x="895.4" y="980.3" font-size="12.2" text-anchor="middle">NJ-G</text>
<text x="1034.6" y="965.5" font-size="12.2" text-anchor="middle">gp140 w.78</text>
<text x="1034.6" y="980.3" font-size="12.2" text-anchor="middle">Indiana-G</text>
<text x="1175.2" y="965.5" font-size="12.2" text-anchor="middle">gp140 w.100</text>
<text x="1175.2" y="980.3" font-size="12.2" text-anchor="middle">Cocal-G</text>
<text x="1030.8" y="1008.6" font-size="22.4" text-anchor="middle">Week</text>
<text x="1334.8" y="509.0" font-size="34.5" font-weight="bold">d</text>
<line x1="1404.8" y1="567.4" x2="1404.8" y2="893.8" stroke="#000" stroke-width="1.4"/>
<line x1="1399.8" y1="567.4" x2="1404.8" y2="567.4" stroke="#222" stroke-width="1.6"/>
<text x="1399.2" y="573.0" font-size="15" text-anchor="end">8</text>
<line x1="1399.8" y1="649.0" x2="1404.8" y2="649.0" stroke="#222" stroke-width="1.6"/>
<text x="1399.2" y="654.6" font-size="15" text-anchor="end">6</text>
<line x1="1399.8" y1="730.6" x2="1404.8" y2="730.6" stroke="#222" stroke-width="1.6"/>
<text x="1399.2" y="736.2" font-size="15" text-anchor="end">4</text>
<line x1="1399.8" y1="812.2" x2="1404.8" y2="812.2" stroke="#222" stroke-width="1.6"/>
<text x="1399.2" y="817.8" font-size="15" text-anchor="end">2</text>
<line x1="1399.8" y1="893.4" x2="1404.8" y2="893.4" stroke="#222" stroke-width="1.6"/>
<text x="1399.2" y="899.0" font-size="15" text-anchor="end">0</text>
<line x1="1399.8" y1="893.3" x2="1894.9" y2="893.3" stroke="#000" stroke-width="1.4"/>
<line x1="1465.9" y1="893.0" x2="1465.9" y2="898.0" stroke="#111" stroke-width="1.5"/>
<text x="1468.9" y="909.0" font-size="16" text-anchor="end" transform="rotate(-45 1468.9 909.0)">91</text>
<line x1="1588.4" y1="893.0" x2="1588.4" y2="898.0" stroke="#111" stroke-width="1.5"/>
<text x="1591.4" y="909.0" font-size="16" text-anchor="end" transform="rotate(-45 1591.4 909.0)">97</text>
<line x1="1710.4" y1="893.0" x2="1710.4" y2="898.0" stroke="#111" stroke-width="1.5"/>
<text x="1713.4" y="909.0" font-size="16" text-anchor="end" transform="rotate(-45 1713.4 909.0)">101</text>
<line x1="1833.3" y1="893.0" x2="1833.3" y2="898.0" stroke="#111" stroke-width="1.5"/>
<text x="1836.3" y="909.0" font-size="16" text-anchor="end" transform="rotate(-45 1836.3 909.0)">113</text>
<text x="1903.5" y="901.2" font-size="18.5">Week</text>
<circle cx="1427.1" cy="572.6" r="5.2" fill="#0433ff"/>
<rect x="1422.2" y="587.3" width="10.2" height="10.2" fill="#ff2600"/>
<text x="1444.0" y="578.0" font-size="14.45">IDLV-CH505 alone</text>
<text x="1444.0" y="597.0" font-size="14.45">IDLV-CH505 + protein</text>
<text x="1351.6" y="727.9" font-size="20.7" text-anchor="middle" transform="rotate(-90 1351.6 727.9)">LogAUC CH505.w.136 SOSIP</text>
<text x="1376.6" y="728.0" font-size="20.75" text-anchor="middle" transform="rotate(-90 1376.6 728.0)">specific IgG</text>
<circle cx="1433.0" cy="893.0" r="5.0" fill="#0433ff"/>
<circle cx="1435.9" cy="893.0" r="5.0" fill="#0433ff"/>
<circle cx="1438.7" cy="893.0" r="5.0" fill="#0433ff"/>
<circle cx="1441.6" cy="893.0" r="5.0" fill="#0433ff"/>
<circle cx="1444.4" cy="893.0" r="5.0" fill="#0433ff"/>
<circle cx="1447.3" cy="893.0" r="5.0" fill="#0433ff"/>
<circle cx="1450.1" cy="893.0" r="5.0" fill="#0433ff"/>
<circle cx="1453.0" cy="893.0" r="5.0" fill="#0433ff"/>
<circle cx="1554.6" cy="878.0" r="5.0" fill="#0433ff"/>
<circle cx="1563.1" cy="878.2" r="5.0" fill="#0433ff"/>
<circle cx="1566.7" cy="884.1" r="5.0" fill="#0433ff"/>
<circle cx="1576.2" cy="885.6" r="5.0" fill="#0433ff"/>
<circle cx="1555.0" cy="888.2" r="5.0" fill="#0433ff"/>
<circle cx="1562.0" cy="888.4" r="5.0" fill="#0433ff"/>
<circle cx="1569.0" cy="888.4" r="5.0" fill="#0433ff"/>
<circle cx="1576.4" cy="888.2" r="5.0" fill="#0433ff"/>
<circle cx="1687.5" cy="751.0" r="5.0" fill="#0433ff"/>
<circle cx="1687.5" cy="820.7" r="5.0" fill="#0433ff"/>
<circle cx="1687.5" cy="846.4" r="5.0" fill="#0433ff"/>
<circle cx="1687.5" cy="856.9" r="5.0" fill="#0433ff"/>
<circle cx="1677.0" cy="869.6" r="5.0" fill="#0433ff"/>
<circle cx="1698.4" cy="867.2" r="5.0" fill="#0433ff"/>
<circle cx="1698.4" cy="876.1" r="5.0" fill="#0433ff"/>
<circle cx="1677.0" cy="885.0" r="5.0" fill="#0433ff"/>
<circle cx="1799.8" cy="692.8" r="5.0" fill="#0433ff"/>
<circle cx="1821.1" cy="687.1" r="5.0" fill="#0433ff"/>
<circle cx="1799.3" cy="707.5" r="5.0" fill="#0433ff"/>
<circle cx="1821.0" cy="704.9" r="5.0" fill="#0433ff"/>
<circle cx="1810.2" cy="726.1" r="5.0" fill="#0433ff"/>
<circle cx="1810.2" cy="736.2" r="5.0" fill="#0433ff"/>
<circle cx="1810.2" cy="801.9" r="5.0" fill="#0433ff"/>
<circle cx="1810.2" cy="854.7" r="5.0" fill="#0433ff"/>
<rect x="1473.5" y="888.0" width="10" height="10" fill="#ff2600"/>
<rect x="1476.5" y="888.0" width="10" height="10" fill="#ff2600"/>
<rect x="1479.5" y="888.0" width="10" height="10" fill="#ff2600"/>
<rect x="1482.5" y="888.0" width="10" height="10" fill="#ff2600"/>
<rect x="1485.5" y="888.0" width="10" height="10" fill="#ff2600"/>
<rect x="1488.5" y="888.0" width="10" height="10" fill="#ff2600"/>
<rect x="1491.5" y="888.0" width="10" height="10" fill="#ff2600"/>
<rect x="1494.5" y="888.0" width="10" height="10" fill="#ff2600"/>
<rect x="1606.0" y="827.1" width="10" height="10" fill="#ff2600"/>
<rect x="1606.0" y="851.2" width="10" height="10" fill="#ff2600"/>
<rect x="1595.3" y="873.6" width="10" height="10" fill="#ff2600"/>
<rect x="1616.9" y="873.9" width="10" height="10" fill="#ff2600"/>
<rect x="1601.5" y="877.0" width="10" height="10" fill="#ff2600"/>
<rect x="1611.5" y="881.3" width="10" height="10" fill="#ff2600"/>
<rect x="1601.0" y="888.6" width="10" height="10" fill="#ff2600"/>
<rect x="1596.0" y="874.0" width="10" height="10" fill="#ff2600"/>
<rect x="1717.7" y="720.3" width="10" height="10" fill="#ff2600"/>
<rect x="1739.5" y="714.4" width="10" height="10" fill="#ff2600"/>
<rect x="1728.6" y="741.7" width="10" height="10" fill="#ff2600"/>
<rect x="1717.7" y="771.6" width="10" height="10" fill="#ff2600"/>
<rect x="1739.5" y="779.5" width="10" height="10" fill="#ff2600"/>
<rect x="1728.6" y="799.9" width="10" height="10" fill="#ff2600"/>
<rect x="1728.6" y="837.1" width="10" height="10" fill="#ff2600"/>
<rect x="1728.6" y="869.7" width="10" height="10" fill="#ff2600"/>
<rect x="1851.0" y="616.0" width="10" height="10" fill="#ff2600"/>
<rect x="1840.2" y="667.1" width="10" height="10" fill="#ff2600"/>
<rect x="1851.0" y="666.4" width="10" height="10" fill="#ff2600"/>
<rect x="1862.1" y="671.8" width="10" height="10" fill="#ff2600"/>
<rect x="1851.0" y="678.9" width="10" height="10" fill="#ff2600"/>
<rect x="1851.0" y="721.7" width="10" height="10" fill="#ff2600"/>
<rect x="1845.7" y="752.0" width="10" height="10" fill="#ff2600"/>
<rect x="1856.6" y="748.0" width="10" height="10" fill="#ff2600"/>
<line x1="1428.5" y1="893.0" x2="1458.0" y2="893.0" stroke="#000" stroke-width="2"/>
<line x1="1473.4" y1="893.0" x2="1504.7" y2="893.0" stroke="#000" stroke-width="2"/>
<line x1="1550.0" y1="885.6" x2="1580.8" y2="885.6" stroke="#000" stroke-width="2"/>
<line x1="1595.9" y1="874.0" x2="1627.0" y2="874.0" stroke="#000" stroke-width="2"/>
<line x1="1672.6" y1="846.8" x2="1702.9" y2="846.8" stroke="#000" stroke-width="2"/>
<line x1="1718.6" y1="784.5" x2="1748.8" y2="784.5" stroke="#000" stroke-width="2"/>
<line x1="1794.9" y1="738.8" x2="1825.4" y2="738.8" stroke="#000" stroke-width="2"/>
<line x1="1840.9" y1="695.3" x2="1871.5" y2="695.3" stroke="#000" stroke-width="2"/>
<polyline points="1685.4,578.3 1685.4,565.8 1846.6,565.8 1846.6,578.3" fill="none" stroke="#222" stroke-width="1.7"/>
<text x="1768.6" y="569.5" font-size="17" font-weight="bold" text-anchor="middle">*</text>
<text x="1588.0" y="786.7" font-size="14.45" text-anchor="middle">2 weeks post</text>
<text x="1588.0" y="803.6" font-size="14.45" text-anchor="middle">1st-SOSIP</text>
<text x="1710.3" y="683.9" font-size="14.45" text-anchor="middle">6 weeks post</text>
<text x="1710.3" y="701.2" font-size="14.45" text-anchor="middle">1st-SOSIP</text>
<text x="1835.2" y="594.3" font-size="14.45" text-anchor="middle">2 weeks post</text>
<text x="1835.2" y="611.6" font-size="14.45" text-anchor="middle">2nd-SOSIP</text>
<line x1="1538.8" y1="927.1" x2="1538.8" y2="944.3" stroke="#000" stroke-width="1.7" stroke-linecap="round"/>
<polygon points="1538.8,918.1 1534.6,928.1 1543.0,928.1" fill="#000"/>
<line x1="1790.7" y1="927.1" x2="1790.7" y2="944.3" stroke="#000" stroke-width="1.7" stroke-linecap="round"/>
<polygon points="1790.7,918.1 1786.5,928.1 1794.9,928.1" fill="#000"/>
<text x="1563.6" y="961.8" font-size="16.5" text-anchor="middle">CH505 w.136 SOSIP</text>
<text x="1563.6" y="980.1" font-size="16.5" text-anchor="middle">NJ-G</text>
<text x="1817.5" y="961.8" font-size="16.5" text-anchor="middle">CH505 w.136 SOSIP</text>
<text x="1817.5" y="980.1" font-size="16.5" text-anchor="middle">Cocal-G</text>
</svg>
</body></html>
